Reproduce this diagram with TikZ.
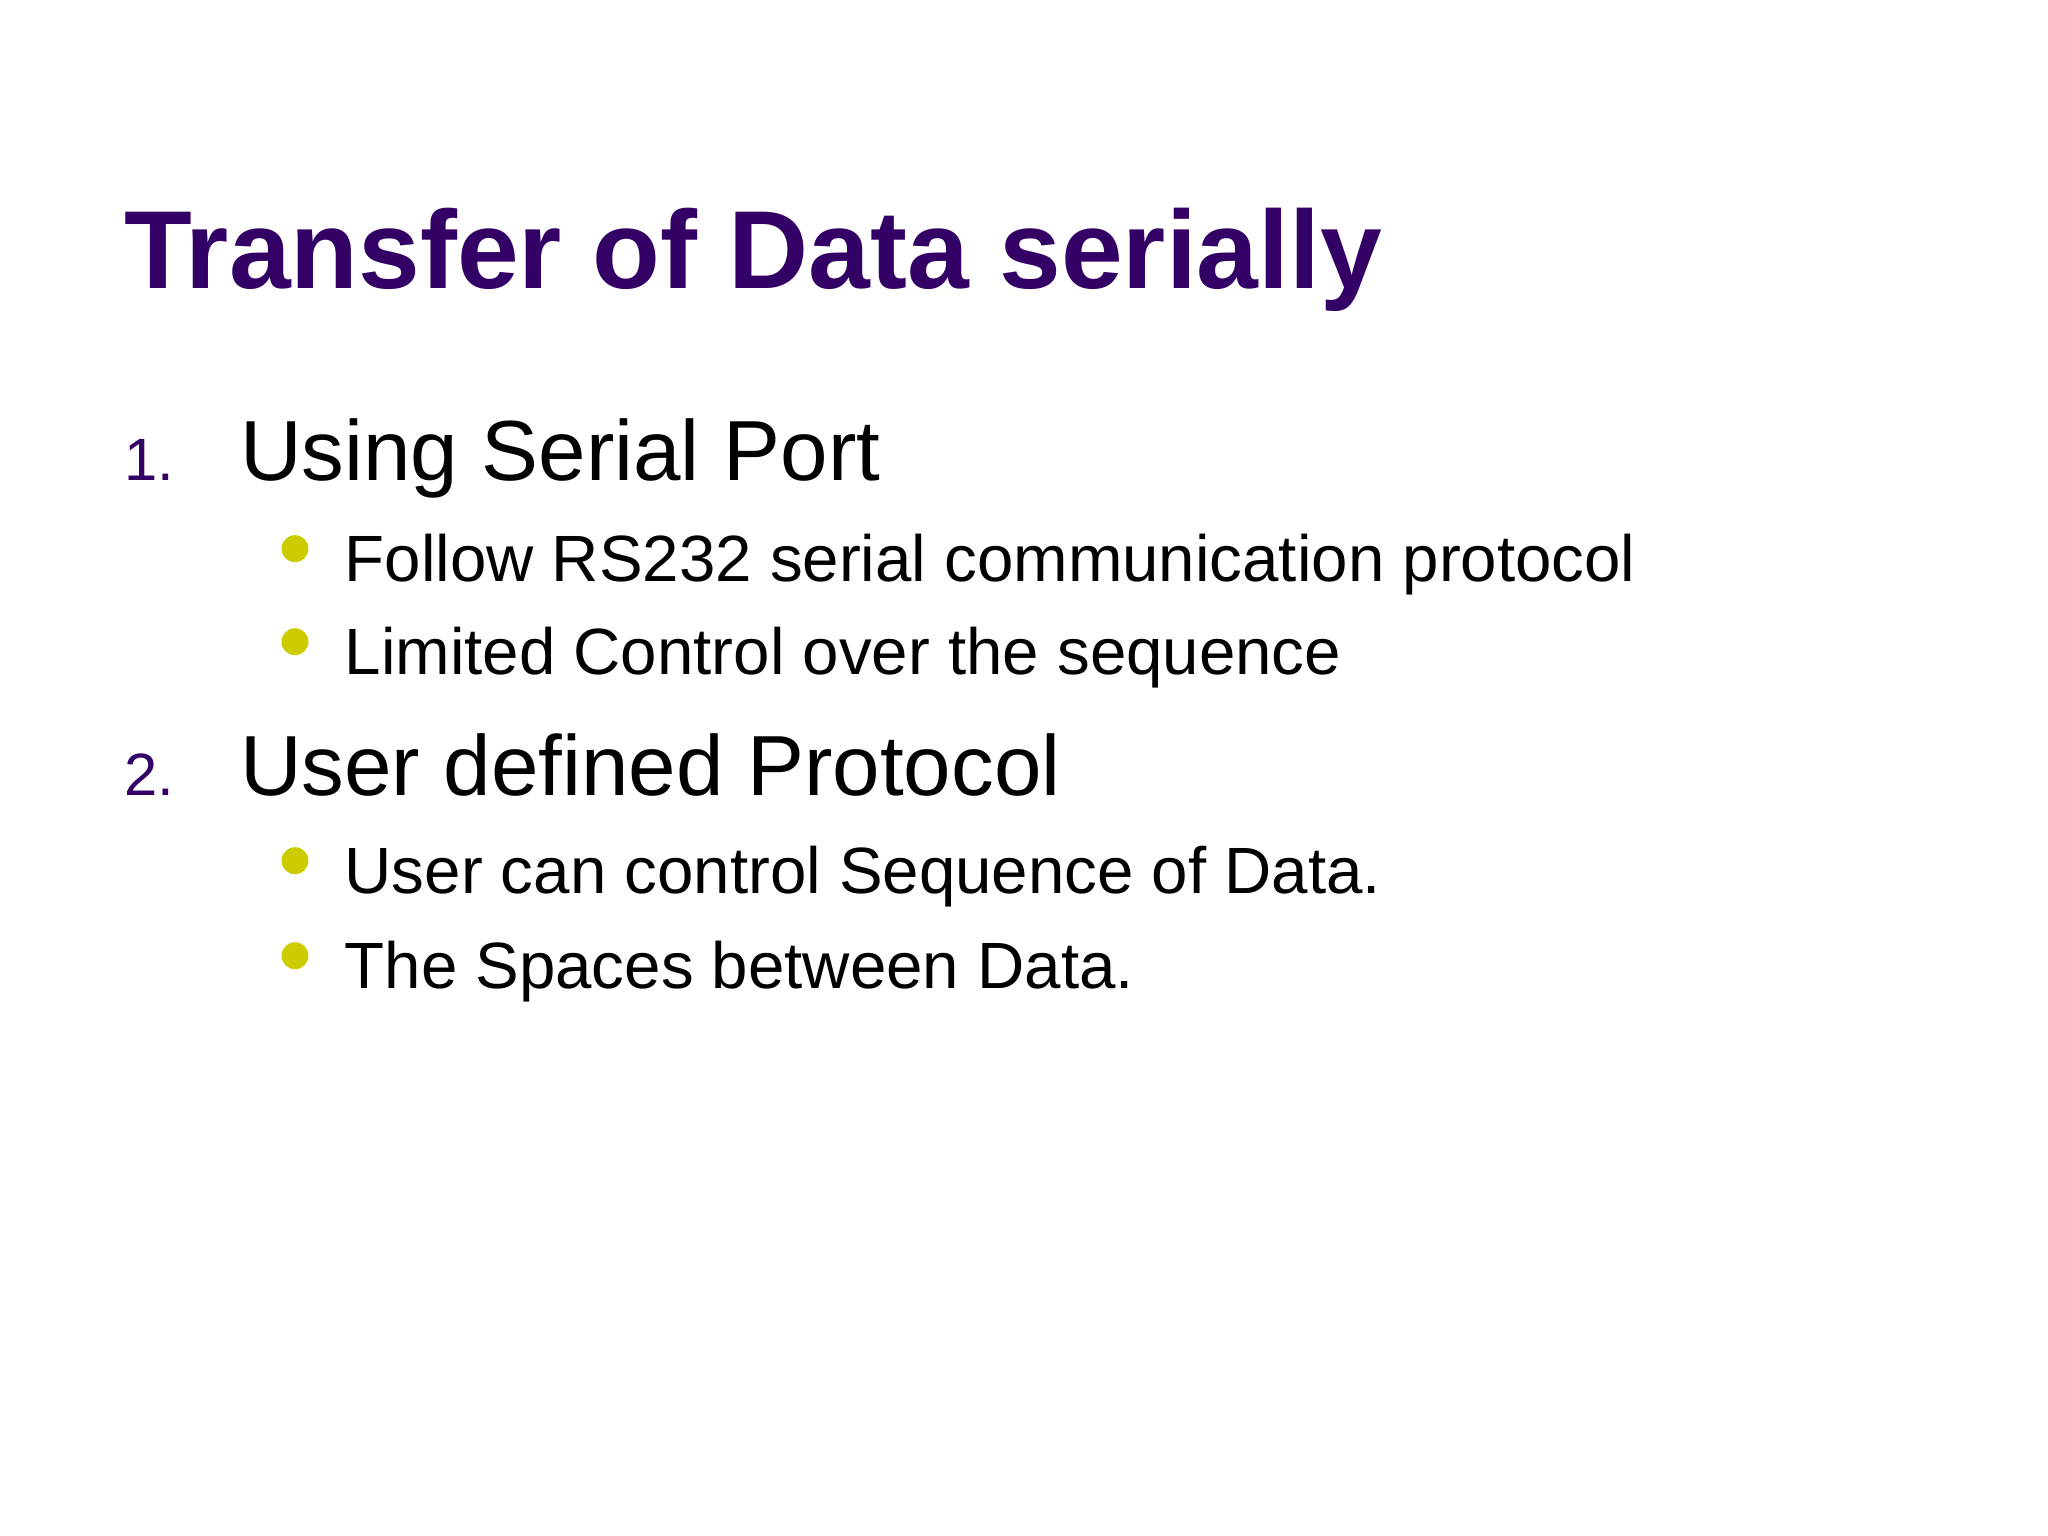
\documentclass[tikz,border=0pt]{standalone}
\usepackage{fontspec}
\setmainfont{Liberation Sans}
\definecolor{titlepurple}{HTML}{330066}
\definecolor{bulletyellow}{HTML}{CCCC00}
\tikzset{
  slidetitle/.style={anchor=base west,inner sep=0pt,text=titlepurple,font=\fontsize{39}{47}\selectfont\bfseries},
  itemnum/.style={anchor=base west,inner sep=0pt,text=titlepurple,font=\fontsize{21}{25}\selectfont},
  itemtext/.style={anchor=base west,inner sep=0pt,font=\fontsize{30}{36}\selectfont},
  subtext/.style={anchor=base west,inner sep=0pt,font=\fontsize{23}{28}\selectfont},
  dot/.style={circle,fill=bulletyellow,inner sep=0pt,minimum size=9.5pt}
}
\begin{document}
\begin{tikzpicture}[x=1pt,y=-1pt]
  \useasboundingbox (0,0) rectangle (720,540);
  \node[slidetitle] (title) at (43.5,101.3) {Transfer of Data serially};
  % first item
  \node[itemnum] (num1) at (43.5,169.1) {1.};
  \node[itemtext] (item1) at (84.2,169.1) {Using Serial Port};
  \foreach \y/\t [count=\k] in {204.3/Follow RS232 serial communication protocol,
                                 237.0/Limited Control over the sequence}{
    \node[dot] (dota\k) at (103.7,\y-11.4) {};
    \node[subtext] (suba\k) at (121,\y) {\t};
  }
  % second item
  \node[itemnum] (num2) at (43.5,279.5) {2.};
  \node[itemtext] (item2) at (84.2,279.5) {User defined Protocol};
  \foreach \y/\t [count=\k] in {314.0/User can control Sequence of Data.,
                                 347.4/The Spaces between Data.}{
    \node[dot] (dotb\k) at (103.7,\y-11.4) {};
    \node[subtext] (subb\k) at (121,\y) {\t};
  }
\end{tikzpicture}
\end{document}
